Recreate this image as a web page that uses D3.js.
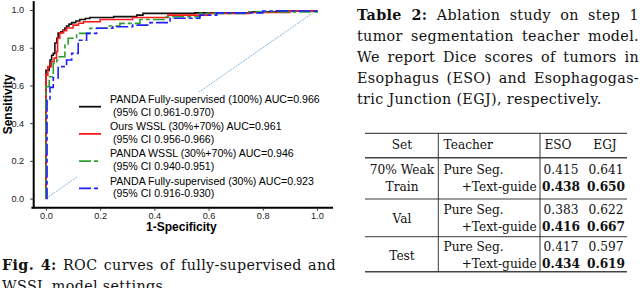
<!DOCTYPE html>
<html><head><meta charset="utf-8">
<script src="https://cdn.jsdelivr.net/npm/d3@7"></script>
<style>body{margin:0;background:#fff}svg{display:block}</style>
</head><body>
<svg id="c" width="640" height="288"></svg>
<script>
// ---- ROC data (FPR = 1-Specificity, TPR = Sensitivity) ----
const fprFull100 = [0,0,0.012,0.015,0.021,0.027,0.033,0.040,0.045,0.055,0.063,0.070,0.076,0.085,0.095,0.110,0.125,0.145,0.162,0.250,0.335,0.358,0.550,0.750,0.850,1];
const tprFull100 = [0,0.68,0.70,0.735,0.76,0.77,0.825,0.85,0.878,0.885,0.894,0.905,0.915,0.925,0.933,0.942,0.95,0.955,0.96,0.965,0.973,0.982,0.985,0.99,0.995,1];
const fprOurs = [0,0,0.007,0.020,0.030,0.039,0.043,0.051,0.065,0.076,0.100,0.120,0.138,0.200,0.320,0.450,0.600,0.750,0.900,1];
const tprOurs = [0,0.655,0.70,0.726,0.745,0.78,0.85,0.878,0.89,0.905,0.92,0.93,0.938,0.95,0.96,0.973,0.982,0.987,0.995,1];
const fprWssl = [0,0,0.012,0.027,0.040,0.049,0.070,0.082,0.113,0.162,0.224,0.273,0.347,0.445,0.568,0.750,1];
const tprWssl = [0,0.593,0.646,0.717,0.735,0.752,0.814,0.85,0.876,0.903,0.915,0.929,0.95,0.964,0.982,0.99,1];
const fprFull30 = [0,0.004,0.015,0.027,0.045,0.076,0.095,0.119,0.150,0.187,0.247,0.320,0.384,0.458,0.568,0.630,0.800,1];
const tprFull30 = [0,0.52,0.59,0.64,0.70,0.735,0.77,0.84,0.876,0.903,0.911,0.92,0.933,0.956,0.973,0.985,0.995,1];

const legendLine1 = ["PANDA Fully-supervised (100%) AUC=0.966","Ours WSSL (30%+70%) AUC=0.961","PANDA WSSL (30%+70%) AUC=0.946","PANDA Fully-supervised (30%) AUC=0.923"];
const legendLine2 = ["(95% CI 0.961-0.970)","(95% CI 0.956-0.966)","(95% CI 0.940-0.951)","(95% CI 0.916-0.930)"];
const seriesColors = ["#111111","#ff1a1a","#2ca02c","#1f1fff"];
const seriesDash = [null,null,"12,3,4,3","12,3,4,3"];
const axisTicks = [0,0.2,0.4,0.6,0.8,1.0];

// ---- Table data ----
const setLabels = [["70% Weak","Train"],["Val"],["Test"]];
const teacherLabels = ["Pure Seg.","+Text-guide"];
const esoScores = [[0.415,0.438],[0.383,0.416],[0.417,0.434]];
const egjScores = [[0.641,0.650],[0.622,0.667],[0.597,0.619]];

// ---- Caption text ----
const tableCaption = [["Table 2:"," Ablation study on step 1"],["","tumor segmentation teacher model."],["","We report Dice scores of tumors in"],["","Esophagus (ESO) and Esophagogas-"],["","tric Junction (EGJ), respectively."]];
const figCaption = [["Fig. 4:"," ROC curves of fully-supervised and"],["","WSSL model settings."]];

const svg = d3.select("#c");
const x = d3.scaleLinear().domain([-0.05,1.05]).range([32.4,330.5]);
const y = d3.scaleLinear().domain([-0.05,1.05]).range([208,0.6]);

// diagonal reference
svg.append("line").attr("x1",x(0)).attr("y1",y(0)).attr("x2",x(1)).attr("y2",y(1))
  .attr("stroke","#6fa8dc").attr("stroke-width",0.9).attr("stroke-dasharray","2,1");

const series = [[fprFull100,tprFull100],[fprOurs,tprOurs],[fprWssl,tprWssl],[fprFull30,tprFull30]];
const line = d3.line().x(d=>x(d[0])).y(d=>y(d[1])).curve(d3.curveStepAfter);
series.forEach((s,i)=>{
  svg.append("path").datum(d3.zip(s[0],s[1])).attr("d",line)
    .attr("fill","none").attr("stroke",seriesColors[i]).attr("stroke-width",1.6)
    .attr("stroke-dasharray",seriesDash[i]);
});

// legend
svg.append("rect").attr("x",77).attr("y",92).attr("width",252).attr("height",106).attr("fill","#fff");
const lg = svg.append("g").attr("font-family","'Liberation Sans',Arial,sans-serif").attr("font-size",10.6).attr("fill","#000");
legendLine1.forEach((t,i)=>{
  const yb = 103 + i*27.2;
  lg.append("line").attr("x1",79).attr("x2",101).attr("y1",yb+3.7).attr("y2",yb+3.7)
    .attr("stroke",seriesColors[i]).attr("stroke-width",1.8).attr("stroke-dasharray",seriesDash[i]);
  lg.append("text").attr("x",110).attr("y",yb).text(t);
  lg.append("text").attr("x",113).attr("y",yb+12.5).text(legendLine2[i]);
});

// axes
const gy = svg.append("g").attr("transform","translate(33.2,0)")
  .call(d3.axisLeft(y).tickValues(axisTicks).tickFormat(d3.format(".1f")).tickSize(3).tickPadding(6).tickSizeOuter(0));
const gx = svg.append("g").attr("transform","translate(0,207.7)")
  .call(d3.axisBottom(x).tickValues(axisTicks).tickFormat(d3.format(".1f")).tickSize(3).tickPadding(1.5).tickSizeOuter(0));
[gy,gx].forEach(g=>{
  g.attr("font-family","'Liberation Sans',Arial,sans-serif").attr("font-size",9.2);
  g.select(".domain").attr("stroke","#000").attr("stroke-width",2);
  g.selectAll(".tick line").attr("stroke","#333").attr("stroke-width",1);
  g.selectAll(".tick text").attr("fill","#222");
});
gx.select(".domain").attr("d","M31.4,0H333");

svg.append("text").attr("transform",`translate(12,${y(0.5)}) rotate(-90)`).attr("text-anchor","middle")
  .attr("font-family","'Liberation Sans',Arial,sans-serif").attr("font-weight","bold").attr("font-size",12).text("Sensitivity");
svg.append("text").attr("x",x(0.5)).attr("y",231).attr("text-anchor","middle")
  .attr("font-family","'Liberation Sans',Arial,sans-serif").attr("font-weight","bold").attr("font-size",12).text("1-Specificity");

// captions (justified by word spacing)
const serif = "'DejaVu Serif',serif";
function caption(lines,x0,y0,width,justifyCount){
  lines.forEach((l,i)=>{
    const t = svg.append("text").attr("x",x0).attr("y",y0+i*21).attr("font-family",serif)
      .attr("font-size",14.3).attr("letter-spacing",0.35).attr("fill","#111");
    if(l[0]) t.append("tspan").attr("font-weight","bold").text(l[0]);
    t.append("tspan").text(l[1]);
    if(i<justifyCount){
      const nat = t.node().getComputedTextLength();
      const spaces = (l[0]+l[1]).split(" ").length-1;
      if(spaces>0) t.attr("word-spacing",(width-nat)/spaces);
    }
  });
}
caption(tableCaption,357,20,282,4);
caption(figCaption,2,270,334,1);

// table
const tb = svg.append("g").attr("font-family",serif).attr("font-size",12.2).attr("fill","#111");
const rule = (yy,w,c)=>tb.append("line").attr("x1",365).attr("x2",627).attr("y1",yy).attr("y2",yy).attr("stroke",c||"#222").attr("stroke-width",w);
rule(133.3,1);rule(157.7,1.4,"#444");rule(199,0.9);rule(236.7,0.9);rule(271.7,1.4,"#444");
[438.3,540].forEach(xx=>tb.append("line").attr("x1",xx).attr("x2",xx).attr("y1",133.3).attr("y2",271.7).attr("stroke","#222").attr("stroke-width",0.9));
tb.append("text").attr("x",402).attr("y",149).attr("text-anchor","middle").text("Set");
tb.append("text").attr("x",443.5).attr("y",149).text("Teacher");
tb.append("text").attr("x",558).attr("y",149).attr("text-anchor","middle").text("ESO");
tb.append("text").attr("x",605).attr("y",149).attr("text-anchor","middle").text("EGJ");
const rowBase = [[174,190.5],[214,231],[251,268]];
const fmt = d3.format(".3f");
setLabels.forEach((lab,g)=>{
  const [b1,b2] = rowBase[g];
  if(lab.length===2){
    tb.append("text").attr("x",402).attr("y",b1).attr("text-anchor","middle").text(lab[0]);
    tb.append("text").attr("x",402).attr("y",b2).attr("text-anchor","middle").text(lab[1]);
  } else {
    tb.append("text").attr("x",402).attr("y",(b1+b2)/2+0.5).attr("text-anchor","middle").text(lab[0]);
  }
  tb.append("text").attr("x",443.5).attr("y",b1).text(teacherLabels[0]);
  tb.append("text").attr("x",536.7).attr("y",b2).attr("text-anchor","end").text(teacherLabels[1]);
  [0,1].forEach(r=>{
    const bb = r===0?b1:b2;
    tb.append("text").attr("x",561).attr("y",bb).attr("text-anchor","middle").attr("font-weight",r?"bold":null).text(fmt(esoScores[g][r]));
    tb.append("text").attr("x",606).attr("y",bb).attr("text-anchor","middle").attr("font-weight",r?"bold":null).text(fmt(egjScores[g][r]));
  });
});
</script>
</body></html>
